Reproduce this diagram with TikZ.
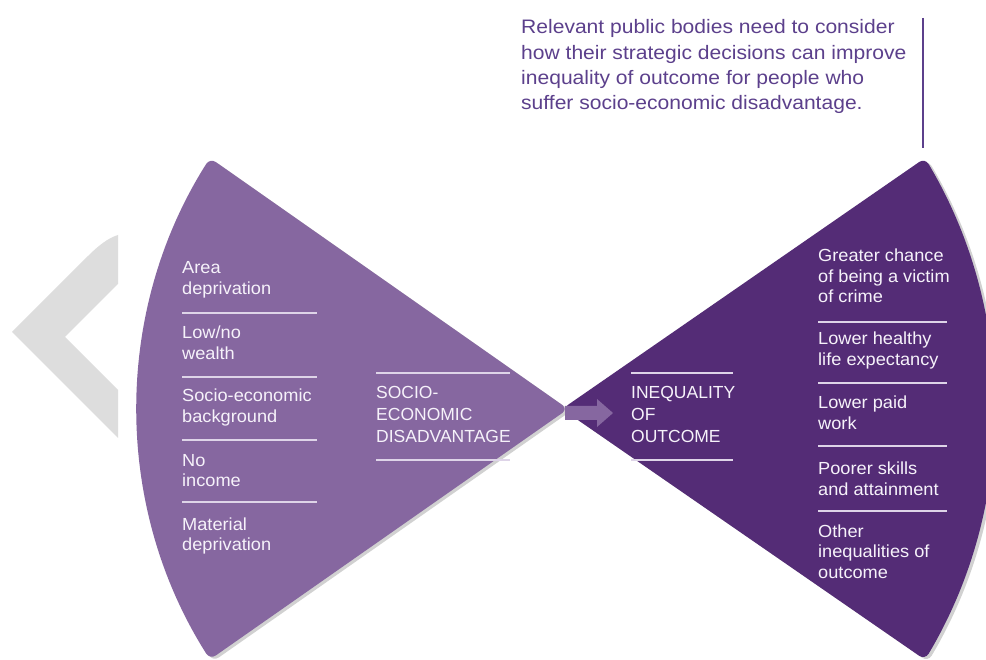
\documentclass[tikz,border=0pt]{standalone}
\usepackage{fontspec}
\setmainfont{Liberation Sans}
\newfontfamily\itemfont{Liberation Sans}[FakeStretch=1.04]
\newfontfamily\notefont{Liberation Sans}[FakeStretch=1.08]
\usetikzlibrary{shadows}
\definecolor{fanL}{RGB}{134,103,160}
\definecolor{fanR}{RGB}{84,44,118}
\definecolor{topT}{RGB}{92,64,140}
\definecolor{chev}{RGB}{221,221,221}
\definecolor{fantext}{RGB}{246,242,250}
\definecolor{sepcol}{RGB}{222,212,232}
\newcommand{\stackt}[2][220pt]{\parbox[t]{#1}{\raggedright #2}}
\begin{document}
\begin{tikzpicture}[x=1pt,y=-1pt,
  fantxt/.style={anchor=base west, inner sep=0pt, text=fantext, font=\itemfont\fontsize{17.5}{20.5}\selectfont},
  captxt/.style={anchor=base west, inner sep=0pt, text=fantext, font=\fontsize{17.5}{22}\selectfont},
  sep/.style={draw=sepcol, line width=1.4pt},
  fanshadow/.style={drop shadow={shadow xshift=3pt, shadow yshift=-2pt, opacity=0.18, fill=black}},
]
\clip (0,0) rectangle (986,660);
\fill[white] (0,0) rectangle (986,660);
% grey chevron
\fill[chev] (12,332) -- (88,256) .. controls (98,246) and (108,238) .. (118,235)
  -- (118,284) -- (65,337) -- (118,390) -- (118,438) -- cycle;
% left fan
\fill[fanL, rounded corners=7pt, fanshadow] (568,409) -- (210,158)
  arc[start angle=212.4, end angle=147.6, radius=468] -- cycle;
% right fan
\fill[fanR, rounded corners=7pt, fanshadow] (562,409) -- (925,158)
  arc[start angle=-30.8, end angle=30.8, radius=490] -- cycle;
% block arrow
\fill[fanL] (565,406) -- (597,406) -- (597,399) -- (613,413) -- (597,427) -- (597,420) -- (565,420) -- cycle;
% top note
\node[anchor=base west, inner sep=0pt, text=topT, font=\notefont\fontsize{19.5}{25.3}\selectfont] (topnote) at (521,34)
  {\stackt[420pt]{Relevant public bodies need to consider\\how their strategic decisions can improve\\inequality of outcome for people who\\suffer socio-economic disadvantage.}};
\draw[topT, line width=1.5pt] (923,18) -- (923,148);
% left items
\node[fantxt] (l1) at (182,274) {\stackt{Area\\deprivation}};
\node[fantxt] (l2) at (182,339) {\stackt{Low/no\\wealth}};
\node[fantxt] (l3) at (182,402) {\stackt{Socio-economic\\background}};
\node[fantxt] (l4) at (182,466) {\stackt{No\\income}};
\node[fantxt] (l5) at (182,530) {\stackt{Material\\deprivation}};
\foreach \yy in {313,377,440,502} \draw[sep] (182,\yy) -- (317,\yy);
% centre captions
\node[captxt] (sed) at (376,399) {\stackt{SOCIO-\\ECONOMIC\\DISADVANTAGE}};
\draw[sep] (376,373) -- (510,373);
\draw[sep] (376,460) -- (510,460);
\node[captxt] (ioo) at (631,399) {\stackt{INEQUALITY\\OF\\OUTCOME}};
\draw[sep] (631,373) -- (733,373);
\draw[sep] (631,460) -- (733,460);
% right items
\node[fantxt] (r1) at (818,262) {\stackt{Greater chance\\of being a victim\\of crime}};
\node[fantxt] (r2) at (818,345) {\stackt{Lower healthy\\life expectancy}};
\node[fantxt] (r3) at (818,409) {\stackt{Lower paid\\work}};
\node[fantxt] (r4) at (818,475) {\stackt{Poorer skills\\and attainment}};
\node[fantxt] (r5) at (818,537) {\stackt{Other\\inequalities of\\outcome}};
\foreach \yy in {322,383,446,511} \draw[sep] (818,\yy) -- (947,\yy);
\end{tikzpicture}
\end{document}
